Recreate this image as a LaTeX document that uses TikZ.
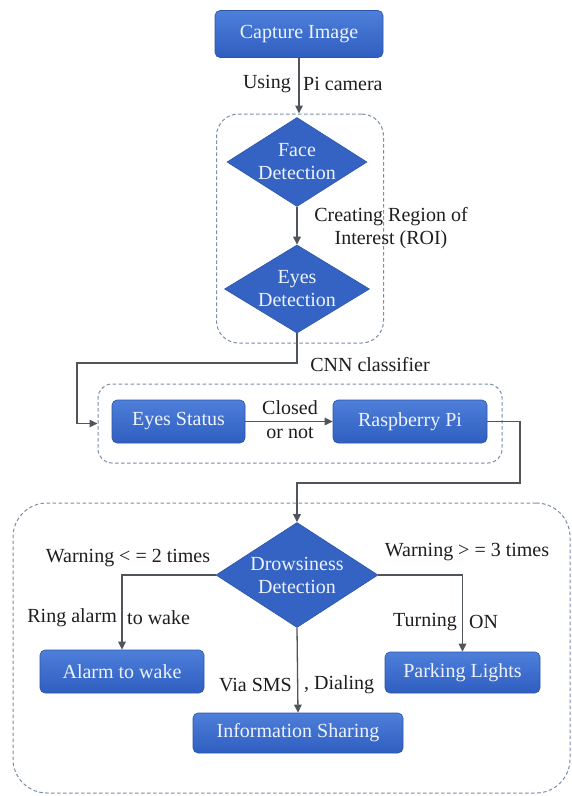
\documentclass[tikz,border=0pt]{standalone}
\usepackage{fontspec}
\IfFontExistsTF{LiberationSerif-Regular.ttf}
  {\setmainfont{LiberationSerif-Regular.ttf}[BoldFont=LiberationSerif-Bold.ttf]}
  {\setmainfont{Liberation Serif}}
\usetikzlibrary{arrows.meta,shapes.geometric}
\definecolor{boxtop}{HTML}{4E7FDA}
\definecolor{boxbot}{HTML}{2F5EC0}
\definecolor{boxedge}{HTML}{2A55A8}
\definecolor{dashc}{HTML}{7C8DA8}
\definecolor{linec}{HTML}{50555C}
\definecolor{txtc}{HTML}{1E1E1E}
\definecolor{boxtxt}{HTML}{EEF3FB}
\begin{document}
\begin{tikzpicture}[x=1pt,y=-1pt,
  every node/.style={font=\fontsize{20}{23}\selectfont, text=txtc},
  procbox/.style={rectangle, rounded corners=5pt, draw=boxedge, line width=0.6pt,
    top color=boxtop, bottom color=boxbot, text=boxtxt, inner sep=0pt},
  decbox/.style={diamond, draw=boxedge, line width=0.6pt, fill=boxbot!85!boxtop,
    text=boxtxt, inner sep=0pt, align=center, aspect=1.5},
  grp/.style={rectangle, draw=dashc, line width=1pt, dash pattern=on 3.5pt off 2.5pt, inner sep=0pt},
  arr/.style={draw=linec, line width=1.3pt, -{Triangle[length=8pt,width=7.5pt]}},
  lbl/.style={inner sep=0pt, text=txtc}
]
\useasboundingbox (0,0) rectangle (572,796);
\fill[white] (0,0) rectangle (572,796);

% groups
\node[grp, rounded corners=22pt, minimum width=167pt, minimum height=229pt] (g1) at (300,228.5) {};
\node[grp, rounded corners=14pt, minimum width=404pt, minimum height=79pt] (g2) at (300,423.5) {};
\node[grp, rounded corners=34pt, minimum width=557pt, minimum height=290pt] (g3) at (291.5,648) {};

% nodes
\node[procbox, minimum width=168pt, minimum height=47pt] (cap) at (299,34) {Capture Image};
\node[decbox, minimum width=140pt, minimum height=89pt] (face) at (297,162) {Face\\Detection};
\node[decbox, minimum width=145pt, minimum height=82pt] (eyes) at (297,289) {Eyes\\Detection};
\node[procbox, minimum width=133pt, minimum height=43pt] (es) at (178.5,421.5) {Eyes Status};
\node[procbox, minimum width=154pt, minimum height=43pt] (rp) at (410,421.5) {Raspberry Pi};
\node[decbox, minimum width=162pt, minimum height=105pt] (dd) at (297,575) {Drowsiness\\Detection};
\node[procbox, minimum width=164pt, minimum height=43pt] (alarm) at (122,671.5) {Alarm to wake};
\node[procbox, minimum width=155pt, minimum height=41pt] (park) at (462.5,672.5) {Parking Lights};
\node[procbox, minimum width=210pt, minimum height=40pt] (info) at (298,733) {Information Sharing};

% connectors
\draw[arr] (cap.south) -- (cap.south |- g1.north);
\draw[arr] (face.south) -- (eyes.north);
\coordinate (k1) at (77,363);
\draw[arr] (eyes.south) |- (k1) |- (g2.west);
\draw[arr] (es.east) -- (rp.west);
\coordinate (k2) at (520,483);
\draw[arr] (rp.east) -| (k2) -| (dd.north);
\draw[arr] (dd.west) -| (alarm.north);
\draw[arr] (dd.east) -| (park.north);
\draw[arr] (dd.south) -- (info.north);

% labels
\node[lbl, anchor=east] (l1a) at (291,84) {Using};
\node[lbl, anchor=west] (l1b) at (303,84) {Pi camera};
\node[lbl, align=center] (l2) at (391,228) {Creating Region of\\Interest (ROI)};
\node[lbl] (l3) at (370,365) {CNN classifier};
\node[lbl] (l4a) at (290,408) {Closed};
\node[lbl] (l4b) at (290,433) {or not};
\node[lbl] (l5) at (128,558) {Warning < = 2 times};
\node[lbl] (l6) at (467,552) {Warning > = 3 times};
\node[lbl, anchor=east] (l7a) at (117,618) {Ring alarm};
\node[lbl, anchor=west] (l7b) at (127,618) {to wake};
\node[lbl, anchor=east] (l8a) at (457,622) {Turning};
\node[lbl, anchor=west] (l8b) at (469,622) {ON};
\node[lbl, anchor=east] (l9a) at (292,685) {Via SMS};
\node[lbl, anchor=west] (l9b) at (304,685) {, Dialing};
\end{tikzpicture}
\end{document}
